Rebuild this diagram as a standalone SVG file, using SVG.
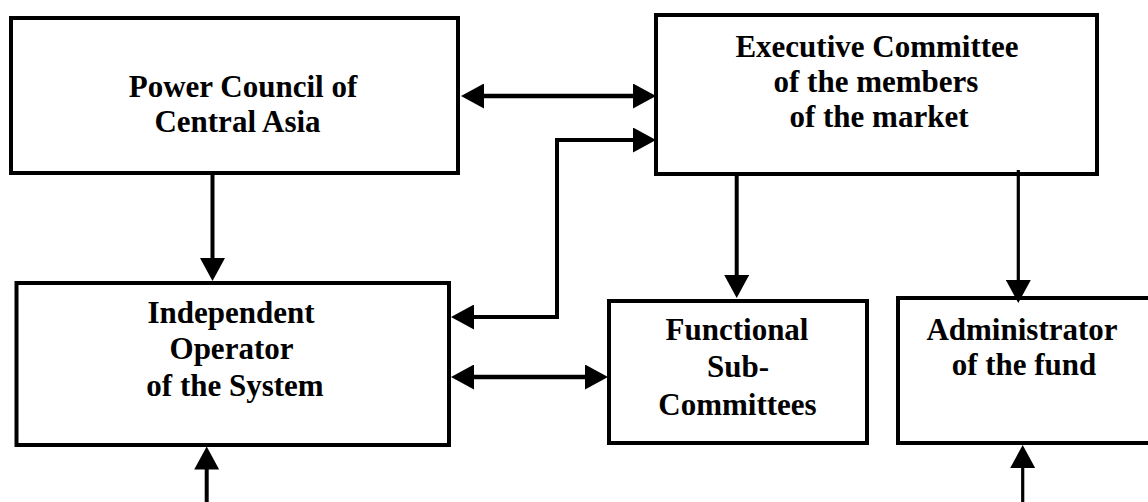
<svg xmlns="http://www.w3.org/2000/svg" width="1148" height="502" viewBox="0 0 1148 502">
<style>
.box{fill:#fff;stroke:#000;stroke-width:4}
.t{font-family:"Liberation Serif","Times New Roman",serif;font-weight:bold;font-size:31px;fill:#000;text-anchor:middle}
.c{fill:none;stroke:#000;stroke-width:4.5}
.thin{stroke-width:3.2}
</style>
<defs>
<marker id="ah" markerUnits="userSpaceOnUse" viewBox="0 0 23 25" markerWidth="23" markerHeight="25" refX="13" refY="12.5" orient="auto-start-reverse">
<path d="M0,0 L23,12.5 L0,25 Z" fill="#000"/>
</marker>
</defs>
<rect width="1148" height="502" fill="#fff"/>
<g id="power-council">
<rect class="box" x="11" y="18" width="447" height="155"/>
<text class="t" x="243" y="97">Power Council of</text>
<text class="t" x="237.5" y="132">Central Asia</text>
</g>
<g id="executive-committee">
<rect class="box" x="656" y="15" width="441" height="159"/>
<text class="t" x="877" y="57">Executive Committee</text>
<text class="t" x="876" y="92">of the members</text>
<text class="t" x="879" y="127">of the market</text>
</g>
<g id="independent-operator">
<rect class="box" x="16.5" y="283" width="432.5" height="162"/>
<text class="t" x="231" y="323">Independent</text>
<text class="t" x="231.5" y="359">Operator</text>
<text class="t" x="235" y="396">of the System</text>
</g>
<g id="functional-subcommittees">
<rect class="box" x="609" y="301" width="258" height="142"/>
<text class="t" x="737" y="340">Functional</text>
<text class="t" x="738" y="377">Sub-</text>
<text class="t" x="737.5" y="415">Committees</text>
</g>
<g id="administrator">
<rect class="box" x="898" y="298" width="270" height="145"/>
<text class="t" x="1022" y="340">Administrator</text>
<text class="t" x="1024" y="375">of the fund</text>
</g>
<g id="connectors">
<path class="c" d="M471,96 H646" marker-start="url(#ah)" marker-end="url(#ah)"/>
<path class="c" style="stroke-width:4" d="M461,317 H557 V140 H646" marker-start="url(#ah)" marker-end="url(#ah)"/>
<path class="c" style="stroke-width:4" d="M212.5,173 V271" marker-end="url(#ah)"/>
<path class="c" d="M461,377 H598" marker-start="url(#ah)" marker-end="url(#ah)"/>
<path class="c" style="stroke-width:4" d="M736.7,174 V288" marker-end="url(#ah)"/>
<path class="c thin" d="M1018.3,170 V293" marker-end="url(#ah)"/>
<path class="c" style="stroke-width:4" d="M206.7,502 V456.5" marker-end="url(#ah)"/>
<path class="c thin" d="M1022.7,502 V455" marker-end="url(#ah)"/>
</g>
</svg>
